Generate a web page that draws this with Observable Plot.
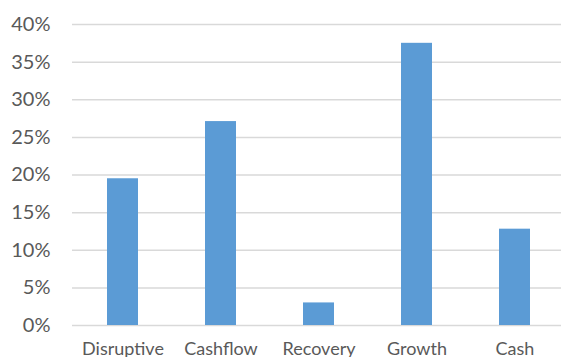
<!DOCTYPE html>
<html>
<head>
<meta charset="utf-8">
<script src="https://cdn.jsdelivr.net/npm/d3@7"></script>
<script src="https://cdn.jsdelivr.net/npm/@observablehq/plot@0.6"></script>
<style>
  html, body { margin: 0; padding: 0; background: #fff; overflow: hidden; }
  #chart svg { display: block; }
</style>
</head>
<body>
<div id="chart"></div>
<script>
const categories = ["Disruptive", "Cashflow", "Recovery", "Growth", "Cash"];
const shares = [0.195, 0.271, 0.030, 0.375, 0.128];
const yTicks = [0, 0.05, 0.10, 0.15, 0.20, 0.25, 0.30, 0.35, 0.40];

const data = categories.map((c, i) => ({category: c, share: shares[i]}));

const chart = Plot.plot({
  width: 561,
  height: 357,
  marginTop: 24,
  marginBottom: 32,
  marginLeft: 72,
  marginRight: 0,
  style: {fontFamily: "Lato, 'Open Sans', sans-serif", color: "#595959", background: "#fff"},
  x: {domain: categories, range: [72, 564], paddingInner: 0.685, paddingOuter: 0.3425},
  y: {domain: [0, 0.4]},
  marks: [
    Plot.ruleY(yTicks, {stroke: "#d9d9d9", strokeWidth: 1.5}),
    Plot.barY(data, {x: "category", y: "share", fill: "#5b9bd5"}),
    Plot.axisY({ticks: yTicks, tickFormat: d3.format(".0%"), tickSize: 0, tickPadding: 22, fontSize: 20, label: null, fill: "#595959"}),
    Plot.axisX({tickSize: 0, tickPadding: 17, fontSize: 18, label: null, fill: "#595959"})
  ]
});
document.getElementById("chart").appendChild(chart);
</script>
</body>
</html>
